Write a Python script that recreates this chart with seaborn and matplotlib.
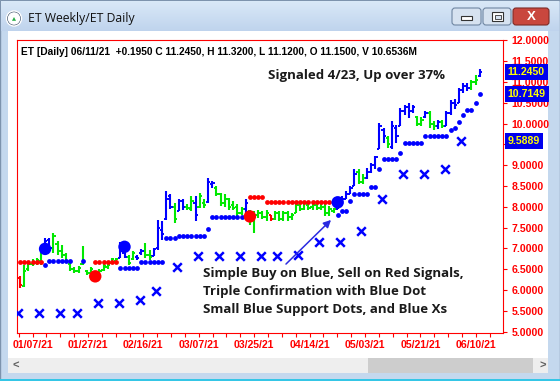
import numpy as np
import pandas as pd
import seaborn as sns
import matplotlib.pyplot as plt
from matplotlib.patches import Rectangle, Circle, Polygon, FancyBboxPatch
from matplotlib.transforms import blended_transform_factory

nan = np.nan

# trading days 01/04/21 - 06/11/21
days = pd.bdate_range("2021-01-04", "2021-06-11")
days = days.drop(pd.to_datetime(["2021-01-18", "2021-02-15", "2021-04-02", "2021-05-31"]))

# daily bars, one row per week
high = [6.33, 6.60, 6.70, 6.74, 6.78,
        6.93, 7.25, 7.25, 7.37, 7.17,
        7.09, 6.89, 6.65, 6.55,
        6.57, 7.05, 6.49, 6.55, 6.45,
        6.50, 6.62, 6.63, 6.78, 6.77,
        7.16, 6.93, 6.85, 6.93, 6.85,
        6.99, 7.13, 6.97, 7.01,
        7.69, 7.65, 8.37, 8.30, 8.10,
        8.18, 8.18, 8.06, 8.26, 8.26,
        8.34, 8.18, 8.70, 8.62, 8.50,
        8.34, 8.30, 8.22, 8.14, 8.06,
        8.00, 8.18, 7.93, 7.89, 7.93,
        7.90, 7.93, 7.81, 7.89,
        7.89, 7.89, 7.89, 7.85, 8.14,
        8.10, 8.14, 8.10, 8.10, 8.06,
        8.06, 8.06, 8.01, 7.97, 8.20,
        8.25, 8.38, 8.50, 8.90, 8.90,
        8.78, 8.94, 9.06, 9.22, 10.02,
        9.90, 9.70, 10.06, 9.98, 10.38,
        10.45, 10.50, 10.46, 10.18, 10.16,
        10.30, 10.30, 10.06, 10.08, 10.10,
        10.30, 10.58, 10.60, 10.86,
        10.98, 10.98, 11.06, 11.18, 11.32]
low = [6.05, 6.07, 6.45, 6.57, 6.61,
       6.61, 6.90, 6.93, 6.89, 6.85,
       6.77, 6.65, 6.45, 6.40,
       6.41, 6.61, 6.37, 6.35, 6.22,
       6.35, 6.45, 6.50, 6.62, 6.69,
       6.77, 6.77, 6.61, 6.73, 6.73,
       6.85, 6.77, 6.73, 6.81,
       6.97, 7.21, 7.69, 7.95, 7.61,
       7.89, 7.93, 7.93, 7.89, 7.65,
       7.97, 7.97, 8.10, 8.45, 8.26,
       8.01, 8.00, 7.93, 7.93, 7.77,
       7.80, 7.85, 7.57, 7.37, 7.73,
       7.70, 7.65, 7.65, 7.69,
       7.65, 7.65, 7.65, 7.69, 7.85,
       7.90, 7.93, 7.93, 7.93, 7.93,
       7.93, 7.77, 7.77, 7.85, 7.95,
       8.05, 8.18, 8.30, 8.50, 8.54,
       8.54, 8.66, 8.82, 8.90, 9.38,
       9.54, 9.42, 9.38, 9.54, 9.94,
       10.20, 10.14, 10.26, 9.94, 9.94,
       10.14, 9.90, 9.86, 9.88, 9.90,
       9.94, 10.22, 10.35, 10.50,
       10.74, 10.78, 10.82, 10.94, 11.12]
opn = [6.28, 6.10, 6.50, 6.62, 6.66,
       6.70, 6.92, 7.20, 7.00, 7.10,
       6.95, 6.85, 6.62, 6.50,
       6.45, 6.62, 6.45, 6.40, 6.42,
       6.38, 6.48, 6.55, 6.64, 6.70,
       6.78, 6.90, 6.80, 6.75, 6.80,
       6.88, 6.95, 6.85, 6.82,
       7.00, 7.45, 7.70, 8.25, 8.00,
       7.90, 8.15, 8.00, 7.95, 8.10,
       8.00, 8.10, 8.12, 8.55, 8.45,
       8.30, 8.10, 8.18, 8.05, 8.00,
       7.85, 7.95, 7.90, 7.70, 7.80,
       7.85, 7.75, 7.80, 7.70,
       7.85, 7.70, 7.85, 7.75, 7.85,
       8.05, 7.95, 8.05, 8.00, 8.05,
       7.98, 8.00, 7.85, 7.90, 7.95,
       8.15, 8.20, 8.32, 8.50, 8.85,
       8.60, 8.70, 8.85, 9.00, 9.40,
       9.85, 9.65, 9.45, 9.90, 9.95,
       10.30, 10.40, 10.30, 10.15, 10.00,
       10.15, 10.25, 10.00, 9.95, 10.05,
       9.95, 10.25, 10.50, 10.50,
       10.80, 10.90, 10.85, 11.00, 11.15]
close = [6.13, 6.45, 6.62, 6.68, 6.72,
         6.88, 7.18, 7.00, 7.30, 6.95,
         6.85, 6.70, 6.50, 6.45,
         6.52, 6.70, 6.40, 6.50, 6.28,
         6.45, 6.58, 6.60, 6.74, 6.75,
         7.05, 6.80, 6.65, 6.88, 6.78,
         6.95, 6.85, 6.80, 6.98,
         7.50, 7.35, 8.20, 8.00, 7.70,
         8.15, 8.00, 7.98, 8.15, 7.80,
         8.25, 8.05, 8.60, 8.58, 8.30,
         8.10, 8.20, 8.00, 7.98, 7.85,
         7.95, 8.10, 7.70, 7.80, 7.85,
         7.75, 7.85, 7.70, 7.85,
         7.70, 7.85, 7.75, 7.80, 8.05,
         7.95, 8.10, 7.98, 8.05, 7.98,
         8.00, 7.85, 7.95, 7.95, 8.15,
         8.20, 8.32, 8.45, 8.80, 8.60,
         8.70, 8.85, 9.00, 9.20, 9.95,
         9.70, 9.50, 9.95, 9.70, 10.30,
         10.40, 10.30, 10.40, 10.00, 10.10,
         10.25, 10.00, 9.95, 10.05, 9.95,
         10.25, 10.50, 10.45, 10.80,
         10.90, 10.85, 11.00, 11.05, 11.245]
# b = blue, g = green, r = red bar
bar_color = "".join(["rgggg", "gbbgg", "gggg", "ggggg", "ggggg", "bbggb", "bggb", "bbbbg",
                     "bbggb", "ggbbg", "ggggg", "gbggg", "ggrg", "ggggg", "ggggg", "ggggb",
                     "bbbbg", "gbbbb", "bgbbb", "bbbgg", "bggbg", "bbbb", "bbggb"])
volume = "10.6536M"

# small blue support dots
blue_dot = [nan, nan, nan, nan, nan,
            nan, 6.61, 6.69, 6.69, 6.69,
            6.69, 6.69, 6.69, nan,
            nan, 6.69, nan, nan, nan,
            nan, nan, nan, nan, nan,
            6.52, 6.52, 6.52, 6.52, 6.52,
            6.67, 6.67, 6.67, 6.67,
            6.67, 6.67, 7.25, 7.25, 7.25,
            7.29, 7.29, 7.29, 7.29, 7.29,
            7.29, 7.29, 7.47, 7.76, 7.76,
            7.76, 7.76, 7.76, 7.76, 7.76,
            7.76, nan, nan, nan, nan,
            nan, nan, nan, nan,
            nan, nan, nan, nan, nan,
            nan, nan, nan, nan, nan,
            nan, nan, nan, nan, 7.81,
            7.91, 7.91, 8.13, 8.30, 8.30,
            8.30, 8.30, 8.47, 8.47, 8.91,
            9.15, 9.15, 9.15, 9.15, 9.30,
            9.54, 9.54, 9.54, 9.54, 9.54,
            9.70, 9.70, 9.70, 9.70, 9.70,
            9.70, 9.86, 9.90, 10.04,
            10.20, 10.34, 10.34, 10.50, 10.7149]
# red sell-side dots
red_dot = [6.67, 6.67, 6.67, 6.67, 6.67,
           6.67, nan, nan, nan, nan,
           nan, nan, nan, nan,
           nan, nan, nan, nan, 6.67,
           6.67, 6.67, 6.67, 6.67, 6.67,
           nan, nan, nan, nan, nan,
           nan, nan, nan, nan,
           nan, nan, nan, nan, nan,
           nan, nan, nan, nan, nan,
           nan, nan, nan, nan, nan,
           nan, nan, nan, nan, nan,
           nan, nan, 8.23, 8.23, 8.23,
           8.23, 8.11, 8.11, 8.11,
           8.11, 8.11, 8.11, 8.11, 8.11,
           8.11, 8.11, 8.11, 8.11, 8.11,
           8.11, 8.11, 8.11, 8.11, nan,
           nan, nan, nan, nan, nan,
           nan, nan, nan, nan, nan,
           nan, nan, nan, nan, nan,
           nan, nan, nan, nan, nan,
           nan, nan, nan, nan, nan,
           nan, nan, nan, nan,
           nan, nan, nan, nan, nan]

# weekly blue Xs
week_start = ["2021-01-04", "2021-01-11", "2021-01-19", "2021-01-25", "2021-02-01", "2021-02-08",
              "2021-02-16", "2021-02-22", "2021-03-01", "2021-03-08", "2021-03-15", "2021-03-22",
              "2021-03-29", "2021-04-05", "2021-04-12", "2021-04-19", "2021-04-26", "2021-05-03",
              "2021-05-10", "2021-05-17", "2021-05-24", "2021-06-01", "2021-06-07"]
week_x = [5.45, 5.45, 5.45, 5.45, 5.69, 5.69, 5.77, 5.97, 6.55, 6.81, 6.81, 6.81,
          6.81, 6.81, 6.85, 7.15, 7.15, 7.42, 8.20, 8.79, 8.79, 8.90, 9.5889]

# big signal circles
sig_date = ["2021-01-12", "2021-01-29", "2021-02-09", "2021-03-24", "2021-04-23"]
sig_price = [6.99, 6.33, 7.04, 7.77, 8.11]
sig_kind = ["buy", "sell", "buy", "sell", "buy"]

xtick_labels = ["01/07/21", "01/27/21", "02/16/21", "03/07/21", "03/25/21",
                "04/14/21", "05/03/21", "05/21/21", "06/10/21"]

BLUE, GREEN, RED = "#0000ff", "#00e800", "#ff0000"

sns.set_theme(style="white")
plt.rcParams['font.family'] = ['Liberation Sans', 'DejaVu Sans']

fig = plt.figure(figsize=(5.6, 3.81), dpi=100)

# ---- window chrome (pixel coords) ----
bg = fig.add_axes([0, 0, 1, 1], zorder=0)
bg.set_xlim(0, 560)
bg.set_ylim(381, 0)
bg.axis('off')
bg.add_patch(Rectangle((0, 0), 560, 381, fc='#c4d8ee', ec='#7d93ad', lw=1))
top, bot = np.array([0.85, 0.91, 0.97]), np.array([0.75, 0.83, 0.93])
grad = top + np.linspace(0, 1, 30)[:, None, None] * (bot - top)
bg.imshow(grad, extent=(1, 559, 31, 1), aspect='auto', zorder=1)
bg.add_patch(Rectangle((8, 31), 540, 327, fc='white', ec='none', zorder=2))
bg.add_patch(Rectangle((8, 358), 540, 15, fc='#eeeeee', ec='none', zorder=2))
bg.add_patch(Rectangle((368, 358), 165, 15, fc='#cdcdcd', ec='none', zorder=3))
bg.text(16, 365.5, '<', fontsize=8, fontweight='bold', color='#606060', ha='center', va='center', zorder=4)
bg.text(543, 365.5, '>', fontsize=8, fontweight='bold', color='#606060', ha='center', va='center', zorder=4)
bg.add_patch(Rectangle((0, 378.5), 560, 2.5, fc='#35c6e6', ec='none', zorder=3))
# icon + title
bg.add_patch(Circle((14, 18.5), 7.5, fc='#1d3552', zorder=3))
bg.add_patch(Circle((14, 18.5), 5.6, fc='white', zorder=4))
bg.add_patch(Polygon([(10.8, 21.5), (17.2, 21.5), (14, 15.5)], fc='#28b04a', zorder=5))
bg.text(28, 18.5, 'ET Weekly/ET Daily', fontsize=8.8, family='Open Sans', color='#111111',
        va='center', ha='left', zorder=4)
# buttons
for bx, bw, fc, ec in [(452, 29, '#d6e2f0', '#6f86a2'), (483, 28, '#d6e2f0', '#6f86a2'),
                       (513, 36, '#c9473e', '#7e2b26')]:
    bg.add_patch(FancyBboxPatch((bx, 8), bw, 17, boxstyle='round,pad=0,rounding_size=3',
                                fc=fc, ec=ec, lw=0.8, zorder=3))
bg.add_patch(Rectangle((461, 16), 11, 3.5, fc='white', ec='#333333', lw=0.8, zorder=4))
bg.add_patch(Rectangle((492, 12), 11, 9, fc='white', ec='#333333', lw=0.8, zorder=4))
bg.add_patch(Rectangle((494.5, 15), 6, 3.5, fc='#d6e2f0', ec='#333333', lw=0.6, zorder=5))
bg.text(531, 16.5, 'X', fontsize=9.5, fontweight='bold', color='white', ha='center', va='center', zorder=4)

# ---- price chart ----
ax = fig.add_axes([17 / 560, 1 - 332.5 / 381, 486 / 560, 292 / 381], zorder=1)
ax.set_facecolor('none')
x = np.arange(len(days))
cmap = {'b': BLUE, 'g': GREEN, 'r': RED}
cols = [cmap[c] for c in bar_color]
ax.vlines(x, low, high, colors=cols, lw=1.5, zorder=2)
ax.hlines(opn, x - 0.55, x, colors=cols, lw=1.4, zorder=2)
ax.hlines(close, x, x + 0.55, colors=cols, lw=1.4, zorder=2)

dots = pd.DataFrame({'pos': x, 'blue': blue_dot, 'red': red_dot})
sns.scatterplot(data=dots, x='pos', y='blue', color=BLUE, s=12, linewidth=0, zorder=3, ax=ax)
sns.scatterplot(data=dots, x='pos', y='red', color=RED, s=12, linewidth=0, zorder=3, ax=ax)

wk = pd.DataFrame({'pos': days.get_indexer(pd.to_datetime(week_start)) - 0.4, 'val': week_x})
sns.scatterplot(data=wk, x='pos', y='val', marker='x', color=BLUE, s=38, linewidth=1.8, zorder=4, ax=ax)

sig = pd.DataFrame({'pos': days.get_indexer(pd.to_datetime(sig_date)), 'val': sig_price, 'kind': sig_kind})
sns.scatterplot(data=sig, x='pos', y='val', hue='kind', palette={'buy': BLUE, 'sell': RED},
                s=80, linewidth=0, legend=False, zorder=4, ax=ax)

ax.set_xlabel('')
ax.set_ylabel('')
for sp in ax.spines.values():
    sp.set_color(RED)
    sp.set_linewidth(0.8)

x_lo, x_hi = -0.72, 115.55
step = 13.26
major = [2.99 + i * step for i in range(len(xtick_labels))]
minor = [m for m in (2.99 + (i - 1) * step / 4 for i in range(40)) if x_lo <= m <= x_hi]
ax.set_xticks(minor, minor=True)
ax.set_xticks(major)
ax.set_xticklabels(xtick_labels, fontsize=7.6, fontweight='bold', color=RED)
ax.tick_params(axis='x', which='both', direction='out', length=3, width=0.8, color=RED, pad=2.5, bottom=True)

# value boxes on the right scale (they hide the scale label underneath)
boxed = [close[-1], blue_dot[-1], week_x[-1]]
yt = np.arange(5.0, 12.01, 0.5)
ax.yaxis.tick_right()
ax.set_yticks(yt)
ylabels = ["" if min(abs(v - b) for b in boxed) < 0.1 else f"{v:.4f}" for v in yt]
ax.set_yticklabels(ylabels, fontsize=7.6, fontweight='bold', color=RED)
ax.tick_params(axis='y', which='both', direction='out', length=3, width=0.8, color=RED, pad=3, right=True)
ax.set_xlim(x_lo, x_hi)
ax.set_ylim(4.98, 12.0)

tr = blended_transform_factory(ax.transAxes, ax.transData)
for v in boxed:
    ax.text(1.0095, v, f"{v:.4f}", transform=tr, fontsize=7.6, fontweight='bold', color='#ffff00',
            ha='left', va='center', clip_on=False, zorder=6,
            bbox=dict(boxstyle='square,pad=0.28', fc='#0000ee', ec='none'))

# ---- texts on top ----
ov = fig.add_axes([0, 0, 1, 1], zorder=3)
ov.set_xlim(0, 560)
ov.set_ylim(381, 0)
ov.axis('off')
chg = close[-1] - close[-2]
header = (f"ET [Daily] {days[-1]:%m/%d/%y}  {chg:+.4f} C {close[-1]:.4f}, H {high[-1]:.4f}, "
          f"L {low[-1]:.4f}, O {opn[-1]:.4f}, V {volume}")
ov.text(21, 52, header, fontsize=7.25, fontweight='bold', color='black', ha='left', va='center')
note_font = dict(family='Open Sans', fontweight='bold', color='#1a1a1a', ha='left', va='center')
ov.text(268, 76, "Signaled 4/23, Up over 37%", fontsize=9.5, **note_font)
for i, line in enumerate(["Simple Buy on Blue, Sell on Red Signals,",
                          "Triple Confirmation with Blue Dot",
                          "Small Blue Support Dots, and Blue Xs"]):
    ov.text(203, 274 + 18 * i, line, fontsize=9.5, **note_font)
ov.annotate('', xy=(333, 218), xytext=(284, 266),
            arrowprops=dict(arrowstyle='-|>', color='#2a2ae0', lw=1.1, mutation_scale=11))

fig.savefig('out.png', dpi=100)
